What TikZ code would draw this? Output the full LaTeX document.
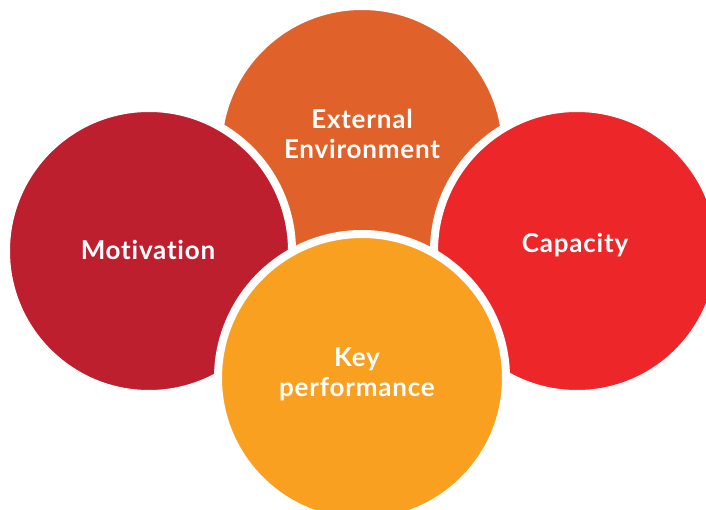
\documentclass[tikz,border=0pt]{standalone}
\usepackage{fontspec}
\setmainfont{Lato}[UprightFont=* Bold, Ligatures={NoCommon}, LetterSpace=3]
\definecolor{cext}{HTML}{E0612A}
\definecolor{cmot}{HTML}{BE1F2F}
\definecolor{ccap}{HTML}{EC2629}
\definecolor{ckey}{HTML}{F9A021}
\tikzset{
  bubble/.style={circle, draw=white, line width=8pt, inner sep=0pt, outer sep=0pt, minimum size=#1},
  lbl/.style={text=white, font=\fontsize{26}{30}\selectfont, align=center, inner sep=0pt}
}
\begin{document}
\begin{tikzpicture}[x=1pt,y=-1pt]
\useasboundingbox (0,0) rectangle (706,510);
\clip (0,0) rectangle (706,510);
\node[bubble=288pt, fill=cext] (ext) at (362,150) {};
\node[bubble=286pt, fill=cmot] (mot) at (149,251) {};
\node[bubble=286pt, fill=ccap] (cap) at (577,251) {};
\node[bubble=288pt, fill=ckey] (key) at (362,378) {};
\node[lbl] (ext-t) at (362,134) {External\\Environment};
\node[lbl] (mot-t) at (148,250) {Motivation};
\node[lbl] (cap-t) at (575,245) {Capacity};
\node[lbl] (key-t) at (357,374) {Key\\performance};
\end{tikzpicture}
\end{document}
